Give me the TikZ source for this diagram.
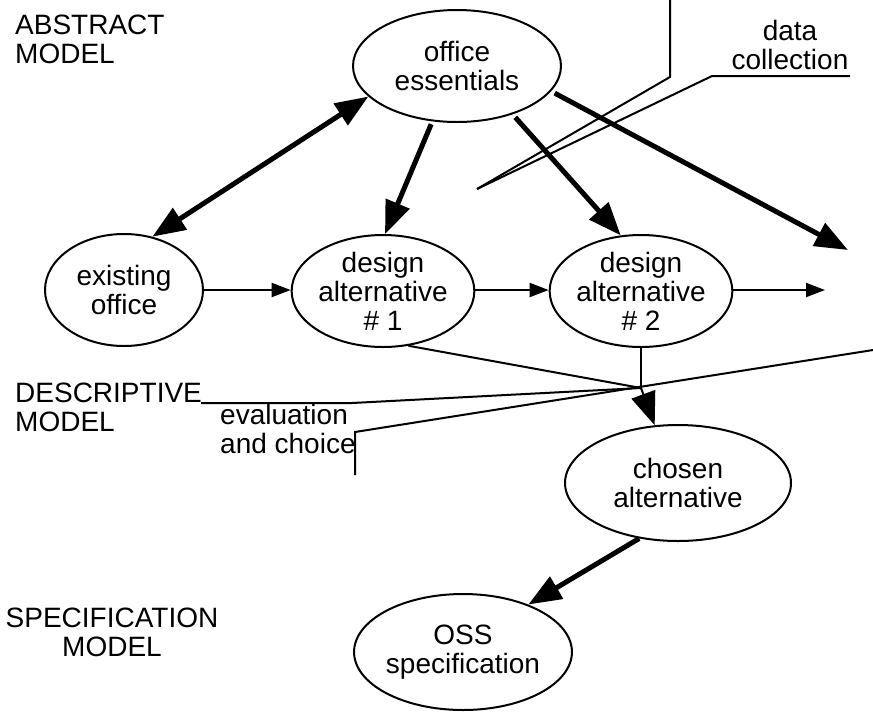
\documentclass[tikz,border=0pt]{standalone}
\usepackage{fontspec}
\setmainfont{Liberation Sans}
\usetikzlibrary{arrows.meta,shapes.geometric}

\tikzset{
  bighead/.tip={Triangle[length=33pt,width=25pt]},
  smallhead/.tip={Triangle[length=19pt,width=14pt]},
  state/.style={ellipse, draw, line width=2pt, inner sep=0pt, align=center,
    minimum width=158pt, minimum height=112pt},
  tag/.style={inner sep=0pt, align=left},
  heavy/.style={line width=5pt, -bighead},
  heavyboth/.style={line width=5pt, bighead-bighead},
  light/.style={line width=2pt, -smallhead},
  lightbig/.style={line width=2pt, -bighead},
  wire/.style={line width=2pt},
}

\begin{document}
\begin{tikzpicture}[x=1pt, y=-1pt, font=\fontsize{28}{29}\selectfont]
\useasboundingbox (0,0) rectangle (873,713);

% model levels
\node[tag, anchor=north west] (abs) at (15,15) {ABSTRACT\\MODEL};
\node[tag, anchor=north west] (desc) at (15,383) {DESCRIPTIVE\\MODEL};
\node[tag, anchor=north, align=center] (spec) at (112,608) {SPECIFICATION\\MODEL};

% activities
\node[tag, anchor=north, align=center] (datac) at (790,20) {data\\collection};
\node[tag, anchor=north west] (evalc) at (220,404) {evaluation\\and choice};

% states
\node[state, minimum width=208pt] (ess) at (457,66) {office\\essentials};
\node[state] (exist) at (124,290) {existing\\office};
\node[state] (alt1) at (383,291) {design\\alternative\\\# 1};
\node[state] (alt2) at (641,291) {design\\alternative\\\# 2};
\node[state, minimum width=226pt, minimum height=116pt] (chosen) at (678,483) {chosen\\alternative};
\node[state, minimum width=212pt, minimum height=116pt] (oss) at (463,652) {OSS\\specification};

\coordinate (far) at (848,250);
\coordinate (next) at (825,290);
\coordinate (J) at (641,388);

% transitions
\draw[heavyboth] (exist.62) -- (ess.199);
\draw[heavy, shorten <=3pt] (ess.246) -- (alt1.88);
\draw[heavy, shorten <=4pt] (ess.319) -- (alt2.110);
\draw[heavy, shorten <=4pt] (ess.345) -- (far);
\draw[light] (exist.east) -- (exist.east -| alt1.west);
\draw[light] (alt1.east |- exist.east) -- (alt2.west |- exist.east);
\draw[light] (alt2.east |- exist.east) -- (next);
\draw[wire] (alt1.295) -- (J);
\draw[wire] (alt2.south) -- (J);
\draw[lightbig] (J) -- (chosen.112);
\draw[heavy] (chosen.235) -- (oss.36);

% activity brackets
\draw[wire] (670,0) -- (670,77) -- (477,189);
\draw[wire] (850,76) -- (712,76) -- (477,189);
\draw[wire] (355,475) -- (355,432) -- (873,350);
\draw[wire] (201,403) -- (352,403) -- (J);
\end{tikzpicture}
\end{document}
